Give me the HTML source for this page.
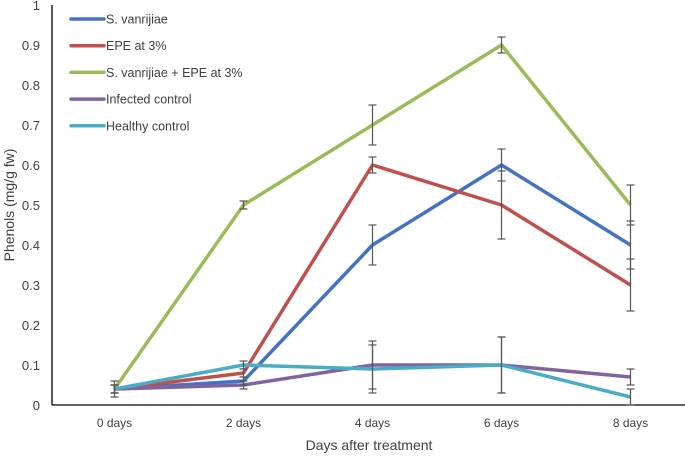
<!DOCTYPE html>
<html><head><meta charset="utf-8"><style>
body{margin:0;background:#fff;}
svg{font-family:"Liberation Sans",sans-serif;}
</style></head><body>
<svg id="chart" width="685" height="455">
<g id="axes"></g><g id="series"></g><g id="legend"></g>
</svg>
<script>
const categories=["0 days","2 days","4 days","6 days","8 days"];
const yTicks=[0,0.1,0.2,0.3,0.4,0.5,0.6,0.7,0.8,0.9,1];
const seriesNames=["S. vanrijiae","EPE at 3%","S. vanrijiae + EPE at 3%","Infected control","Healthy control"];
const seriesColors=["#4472C4","#C0504D","#9BBB59","#8064A2","#4BACC6"];
const sVanrijiae=[0.04,0.06,0.40,0.60,0.40];
const sVanrijiaeErr=[0.01,0.01,0.05,0.04,0.06];
const epe=[0.04,0.08,0.60,0.50,0.30];
const epeErr=[0.01,0.01,0.02,0.085,0.065];
const combo=[0.04,0.50,0.70,0.90,0.50];
const comboErr=[0.01,0.01,0.05,0.02,0.05];
const infected=[0.04,0.05,0.10,0.10,0.07];
const infectedErr=[0.01,0.01,0.06,0.07,0.02];
const healthy=[0.04,0.10,0.09,0.10,0.02];
const healthyErr=[0.02,0.01,0.06,0.07,0.02];
const allValues=[sVanrijiae,epe,combo,infected,healthy];
const allErr=[sVanrijiaeErr,epeErr,comboErr,infectedErr,healthyErr];
const NS="http://www.w3.org/2000/svg";
const left=50,band=129,y0=405,yScale=400;
const X=i=>left+band*(i+0.5);
const Y=v=>y0-v*yScale;
function mk(tag,attrs,parent,text){const e=document.createElementNS(NS,tag);for(const k in attrs)e.setAttribute(k,attrs[k]);if(text!==undefined)e.textContent=text;parent.appendChild(e);return e;}
const axes=document.getElementById('axes');
let yl=mk('line',{x1:52,x2:52,y1:Y(1),y2:Y(0),stroke:'#000','stroke-width':1.3},axes);

let xl=mk('line',{x1:52,x2:685,y1:Y(0),y2:Y(0),stroke:'#000','stroke-width':1.3},axes);

yTicks.forEach(t=>{
 const e=mk('text',{x:40,y:Y(t)+5,'text-anchor':'end','font-size':13,fill:'#404040'},axes,String(t));
 
});
categories.forEach((c,i)=>{
 const e=mk('text',{x:X(i),y:427,'text-anchor':'middle','font-size':12,fill:'#404040'},axes,c);
 
});
let xt=mk('text',{x:369,y:450,'text-anchor':'middle','font-size':14,fill:'#404040'},axes,'Days after treatment');

let yt=mk('text',{x:14,y:205,'text-anchor':'middle','font-size':14,fill:'#404040',transform:'rotate(-90 14 205)'},axes,'Phenols (mg/g fw)');

const sg=document.getElementById('series');
allValues.forEach((vals,s)=>{
 const pts=vals.map((v,i)=>X(i)+','+Y(v)).join(' ');
 const pl=mk('polyline',{points:pts,fill:'none',stroke:seriesColors[s],'stroke-width':3.5,'stroke-linejoin':'round'},sg);
 
});
allValues.forEach((vals,s)=>{
 vals.forEach((v,i)=>{
  const e=allErr[s][i];const x=X(i);
  const g=mk('g',{stroke:'#555','stroke-width':1.2},sg);
  
  mk('line',{x1:x,x2:x,y1:Y(v+e),y2:Y(v-e)},g);
  mk('line',{x1:x-4,x2:x+4,y1:Y(v+e),y2:Y(v+e)},g);
  mk('line',{x1:x-4,x2:x+4,y1:Y(v-e),y2:Y(v-e)},g);
 });
});
const lg=document.getElementById('legend');
seriesNames.forEach((n,s)=>{
 const yy=19+s*26.7;
 const g=mk('g',{},lg);
 
 mk('line',{x1:71,x2:104,y1:yy,y2:yy,stroke:seriesColors[s],'stroke-width':3.5,'stroke-linecap':'round'},g);
 mk('text',{x:106,y:yy+4.5,'font-size':12.5,fill:'#404040'},g,n);
});
</script>
</body></html>
